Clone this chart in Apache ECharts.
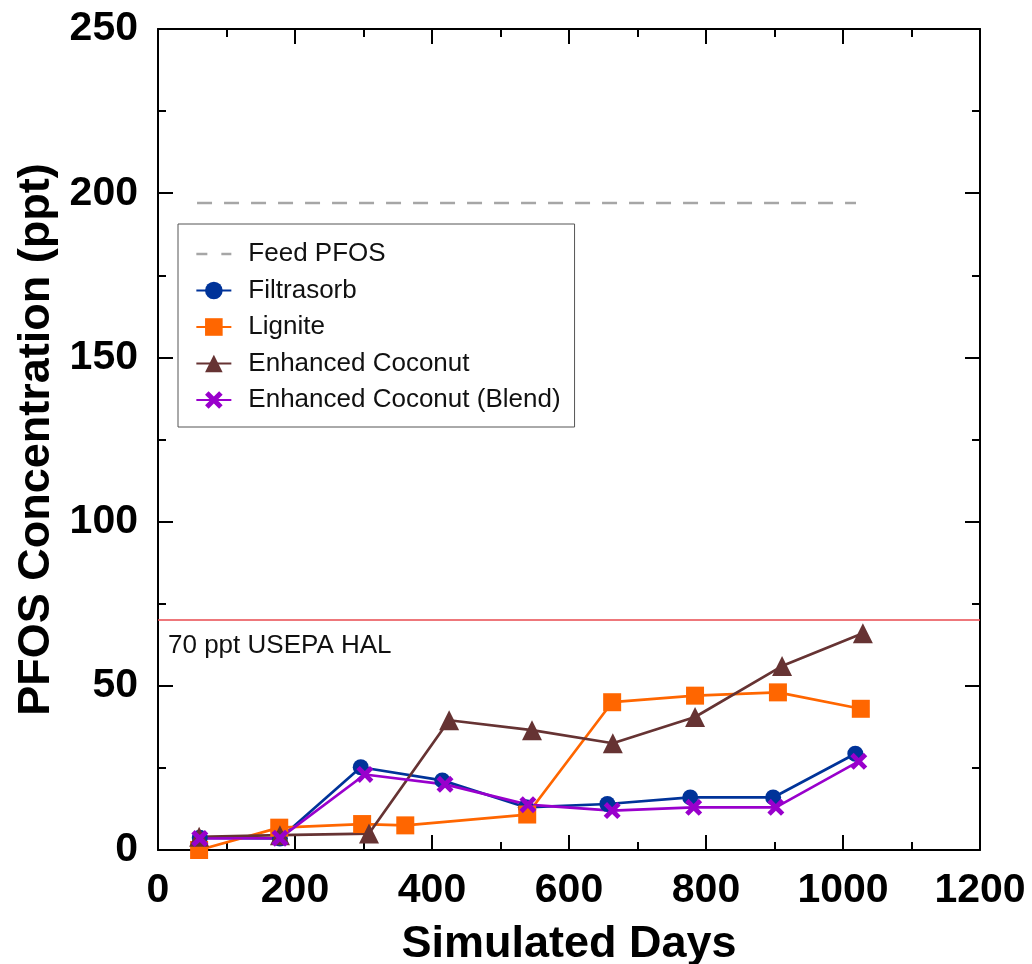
<!DOCTYPE html>
<html>
<head>
<meta charset="utf-8">
<script src="https://cdn.jsdelivr.net/npm/echarts@6/dist/echarts.min.js"></script>
<style>
  html, body { margin: 0; padding: 0; background: #ffffff; }
  #chart { width: 1032px; height: 964px; }
</style>
</head>
<body>
<div id="chart"></div>
<script>
// Simulated days at each sampling point, per media
const filtrasorbDays = [61, 178, 296, 415, 537, 656, 777, 898, 1018];
const filtrasorbPFOS = [3.7, 3.5, 25.2, 21.2, 13, 14, 16, 16, 29.3];

const ligniteDays = [60, 177, 298, 361, 539, 663, 784, 905, 1026];
const lignitePFOS = [0, 6.8, 7.9, 7.5, 10.8, 45, 47, 48, 43];

const coconutDays = [60, 178, 308, 425, 546, 664, 784, 911, 1029];
const coconutPFOS = [4, 4.5, 5, 39.5, 36.5, 32.5, 40.5, 56, 66];

const blendDays = [61, 178, 302, 419, 540, 663, 782, 902, 1023];
const blendPFOS = [3.5, 3.6, 23, 20, 13.8, 12, 13, 13, 27];

// Influent concentration (span of the run) and advisory limit
const feedDays = [57, 1019];
const feedPFOS = [197, 197];
const halValue = 70;

// Axis ticks
const xTicks = { min: 0, max: 1200, step: 200 };
const yTicks = { min: 0, max: 250, step: 50 };

const pair = (xs, ys) => xs.map((x, i) => [x, ys[i]]);

const FONT = '"Liberation Sans", Arial, sans-serif';
const crossPath = 'path://M0,2 L2,0 L5,3 L8,0 L10,2 L7,5 L10,8 L8,10 L5,7 L2,10 L0,8 L3,5 Z';
const plainNumber = v => String(v);

const axisCommon = {
  axisLine: { show: true, onZero: false, lineStyle: { color: '#000', width: 2 } },
  axisTick: { show: true, inside: true, length: 15, lineStyle: { color: '#000', width: 2 } },
  minorTick: { show: true, splitNumber: 2, length: 8, lineStyle: { color: '#000', width: 2 } },
  splitLine: { show: false }
};

const chart = echarts.init(document.getElementById('chart'), null, { renderer: 'canvas' });

const lineSeries = (name, data, color, symbol, size) => ({
  name, type: 'line', data, symbol, symbolSize: size,
  showSymbol: true,
  lineStyle: { color, width: 2.7 },
  itemStyle: { color, borderWidth: 0 },
  xAxisIndex: 0, yAxisIndex: 0, z: 3
});

chart.setOption({
  backgroundColor: '#ffffff',
  animation: false,
  textStyle: { fontFamily: FONT },
  grid: { left: 158, right: 52, top: 29, bottom: 114, containLabel: false, outerBoundsMode: 'none' },
  legend: {
    left: 178, top: 224,
    orient: 'vertical',
    padding: [15, 14, 12, 17],
    itemGap: 6.5,
    itemWidth: 35, itemHeight: 22,
    borderColor: '#555', borderWidth: 1, borderRadius: 0,
    backgroundColor: '#ffffff',
    textStyle: { fontFamily: FONT, fontSize: 26, color: '#111', lineHeight: 30, padding: [0, 0, 0, 12] },
    data: [
      { name: 'Feed PFOS', itemStyle: { opacity: 0 }, lineStyle: { type: [11, 14], width: 2.7 } },
      'Filtrasorb', 'Lignite', 'Enhanced Coconut', 'Enhanced Coconut (Blend)'
    ]
  },
  xAxis: [
    Object.assign({}, axisCommon, {
      type: 'value', position: 'bottom',
      min: xTicks.min, max: xTicks.max, interval: xTicks.step,
      name: 'Simulated Days', nameLocation: 'middle', nameGap: 72,
      nameTextStyle: { fontFamily: FONT, fontSize: 45, fontWeight: 'bold', color: '#000' },
      axisLabel: { margin: 20, fontFamily: FONT, fontSize: 41, fontWeight: 'bold', color: '#000', formatter: plainNumber }
    }),
    Object.assign({}, axisCommon, {
      type: 'value', position: 'top',
      min: xTicks.min, max: xTicks.max, interval: xTicks.step,
      axisLabel: { show: false }
    })
  ],
  yAxis: [
    Object.assign({}, axisCommon, {
      type: 'value', position: 'left',
      min: yTicks.min, max: yTicks.max, interval: yTicks.step,
      name: 'PFOS Concentration (ppt)', nameLocation: 'middle', nameGap: 91,
      nameTextStyle: { fontFamily: FONT, fontSize: 45, fontWeight: 'bold', color: '#000' },
      axisLabel: { margin: 20, fontFamily: FONT, fontSize: 41, fontWeight: 'bold', color: '#000', formatter: plainNumber }
    }),
    Object.assign({}, axisCommon, {
      type: 'value', position: 'right',
      min: yTicks.min, max: yTicks.max, interval: yTicks.step,
      axisLabel: { show: false }
    })
  ],
  series: [
    {
      name: 'Feed PFOS', type: 'line', data: pair(feedDays, feedPFOS),
      symbol: 'none', showSymbol: false,
      lineStyle: { color: '#a6a6a6', width: 2.5, type: [15, 12] },
      itemStyle: { color: '#a6a6a6' },
      z: 2,
      markLine: {
        silent: true, symbol: 'none',
        lineStyle: { color: '#e84a4f', width: 1.5, type: 'solid' },
        label: {
          show: true, position: 'insideStartBottom',
          formatter: '70 ppt USEPA HAL',
          fontFamily: FONT, fontSize: 26, color: '#111',
          distance: [10, 13]
        },
        data: [{ yAxis: halValue }]
      }
    },
    lineSeries('Filtrasorb', pair(filtrasorbDays, filtrasorbPFOS), '#003399', 'circle', 16),
    lineSeries('Lignite', pair(ligniteDays, lignitePFOS), '#ff6600', 'rect', 18),
    lineSeries('Enhanced Coconut', pair(coconutDays, coconutPFOS), '#663333', 'triangle', 20),
    lineSeries('Enhanced Coconut (Blend)', pair(blendDays, blendPFOS), '#9900cc', crossPath, 17)
  ]
});
</script>
</body>
</html>
